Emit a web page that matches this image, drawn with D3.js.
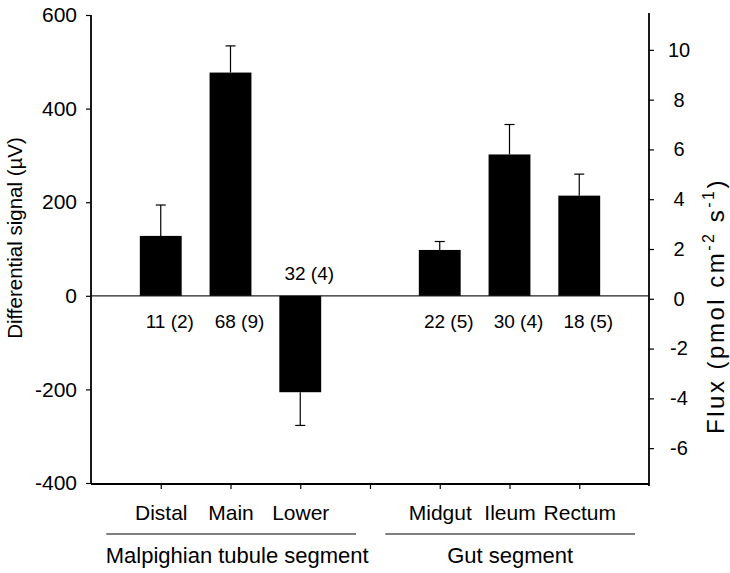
<!DOCTYPE html>
<html>
<head>
<meta charset="utf-8">
<script src="https://cdn.jsdelivr.net/npm/d3@7"></script>
<style>
  body { margin: 0; background: #fff; }
  text { font-family: "Liberation Sans", Arial, Helvetica, sans-serif; fill: #000; }
</style>
</head>
<body>
<script>
// Segment names, grouped by tissue
const tubuleSegments = ["Distal", "Main", "Lower"];
const gutSegments = ["Midgut", "Ileum", "Rectum"];
const groupNames = ["Malpighian tubule segment", "Gut segment"];

// Mean differential signal (µV) and its standard error, same order as the segments
const signal = [128, 477, -206, 98, 302, 214];
const signalSE = [66, 57, 71, 18, 64, 46];

// Sample counts shown beside each bar: measurements (preparations)
const measurements = [11, 68, 32, 22, 30, 18];
const preparations = [2, 9, 4, 5, 4, 5];

// Axis ticks
const signalTicks = [-400, -200, 0, 200, 400, 600];
const fluxTicks = [-6, -4, -2, 0, 2, 4, 6, 8, 10];

const W = 730, H = 573;
const plotL = 91, plotR = 649, plotT = 15, plotB = 484;

const svg = d3.select("body").append("svg")
  .attr("width", W).attr("height", H);

const segments = [...tubuleSegments, ...gutSegments];
const slots = ["_start", ...tubuleSegments, "_gap", ...gutSegments, "_end"];

const x = d3.scalePoint().domain(slots).range([plotL, plotR]);
const y = d3.scaleLinear().domain([-400, 600]).range([plotB - 1, plotT]);
const yFlux = d3.scaleLinear().domain([-7.4, 11.4]).range([plotB - 1, plotT]);

// plain hyphen for negative numbers
const plainNum = d => String(d);

const barW = x.step() * 0.6;
const data = segments.map((s, i) => ({
  seg: s, v: signal[i], se: signalSE[i],
  label: `${measurements[i]} (${preparations[i]})`
}));

// zero line
svg.append("line")
  .attr("x1", plotL).attr("x2", plotR)
  .attr("y1", y(0)).attr("y2", y(0))
  .attr("stroke", "#222").attr("stroke-width", 1.2);

// bars
svg.selectAll("rect.bar").data(data).join("rect")
  .attr("class", "bar")
  .attr("x", d => x(d.seg) - barW / 2)
  .attr("width", barW)
  .attr("y", d => y(Math.max(0, d.v)))
  .attr("height", d => Math.abs(y(d.v) - y(0)))
  .attr("fill", "#000");

// one-sided error bars
const capW = 10;
const err = svg.append("g").attr("stroke", "#000").attr("stroke-width", 1.2);
data.forEach(d => {
  const end = d.v >= 0 ? d.v + d.se : d.v - d.se;
  err.append("line")
    .attr("x1", x(d.seg)).attr("x2", x(d.seg))
    .attr("y1", y(d.v)).attr("y2", y(end));
  err.append("line")
    .attr("x1", x(d.seg) - capW / 2).attr("x2", x(d.seg) + capW / 2)
    .attr("y1", y(end)).attr("y2", y(end));
});

// sample-count labels: below zero for positive bars, above zero for negative ones
svg.selectAll("text.count").data(data).join("text")
  .attr("class", "count")
  .attr("x", d => x(d.seg) + 9)
  .attr("y", d => d.v >= 0 ? y(0) + 32 : y(0) - 16)
  .attr("text-anchor", "middle")
  .attr("font-size", 19)
  .text(d => d.label);

// left axis
const gL = svg.append("g").attr("transform", `translate(${plotL},0)`)
  .call(d3.axisLeft(y).tickValues(signalTicks).tickSize(5).tickSizeOuter(0).tickPadding(9)
    .tickFormat(plainNum));
gL.select(".domain").attr("stroke-width", 1.8).attr("d", `M0,${plotT}V${plotB}`);
gL.selectAll(".tick line").attr("stroke-width", 1.2);
gL.selectAll("text").attr("font-size", 21).attr("font-family", null);

// right axis
const gR = svg.append("g").attr("transform", `translate(${plotR},0)`)
  .call(d3.axisRight(yFlux).tickValues(fluxTicks).tickSize(5).tickSizeOuter(0).tickPadding(0)
    .tickFormat(plainNum));
gR.select(".domain").attr("stroke-width", 1.8).attr("d", `M0,${plotT - 2}V${plotB + 2}`);
gR.selectAll(".tick line").attr("stroke-width", 1.2);
gR.selectAll("text").attr("font-size", 20).attr("font-family", null)
  .attr("text-anchor", "middle").attr("x", 30);

// bottom axis
const gB = svg.append("g").attr("transform", `translate(0,${plotB})`)
  .call(d3.axisBottom(x).tickValues(slots.slice(1, -1)).tickSize(5).tickSizeOuter(0).tickPadding(16)
    .tickFormat(d => d.startsWith("_") ? "" : d));
gB.select(".domain").attr("stroke-width", 1.8).attr("d", `M${plotL},0H${plotR}`);
gB.selectAll(".tick line").attr("stroke-width", 1.2);
gB.selectAll("text").attr("font-size", 21).attr("font-family", null);

// group brackets and names
const groups = [tubuleSegments, gutSegments];
groups.forEach((g, i) => {
  const x0 = x(g[0]) - x.step() * 0.78;
  const x1 = x(g[g.length - 1]) + x.step() * 0.8;
  svg.append("line")
    .attr("x1", x0).attr("x2", x1)
    .attr("y1", 534).attr("y2", 534)
    .attr("stroke", "#000").attr("stroke-width", 1.2);
  svg.append("text")
    .attr("x", (x0 + x1) / 2 + (i === 0 ? 6 : 0)).attr("y", 563)
    .attr("text-anchor", "middle").attr("font-size", 22)
    .text(groupNames[i]);
});

// axis titles
svg.append("text")
  .attr("transform", `translate(22,238) rotate(-90)`)
  .attr("text-anchor", "middle").attr("font-size", 20.5)
  .text("Differential signal (\u00B5V)");

const fluxTitle = svg.append("text")
  .attr("transform", `translate(724,306) rotate(-90)`)
  .attr("text-anchor", "middle").attr("font-size", 24)
  .attr("letter-spacing", 2.5);
fluxTitle.append("tspan").text("Flux (pmol cm");
fluxTitle.append("tspan").attr("font-size", 16).attr("dy", -10).text("-2");
fluxTitle.append("tspan").attr("dy", 10).text(" s");
fluxTitle.append("tspan").attr("font-size", 16).attr("dy", -10).text("-1");
fluxTitle.append("tspan").attr("dy", 10).text(")");
</script>
</body>
</html>
